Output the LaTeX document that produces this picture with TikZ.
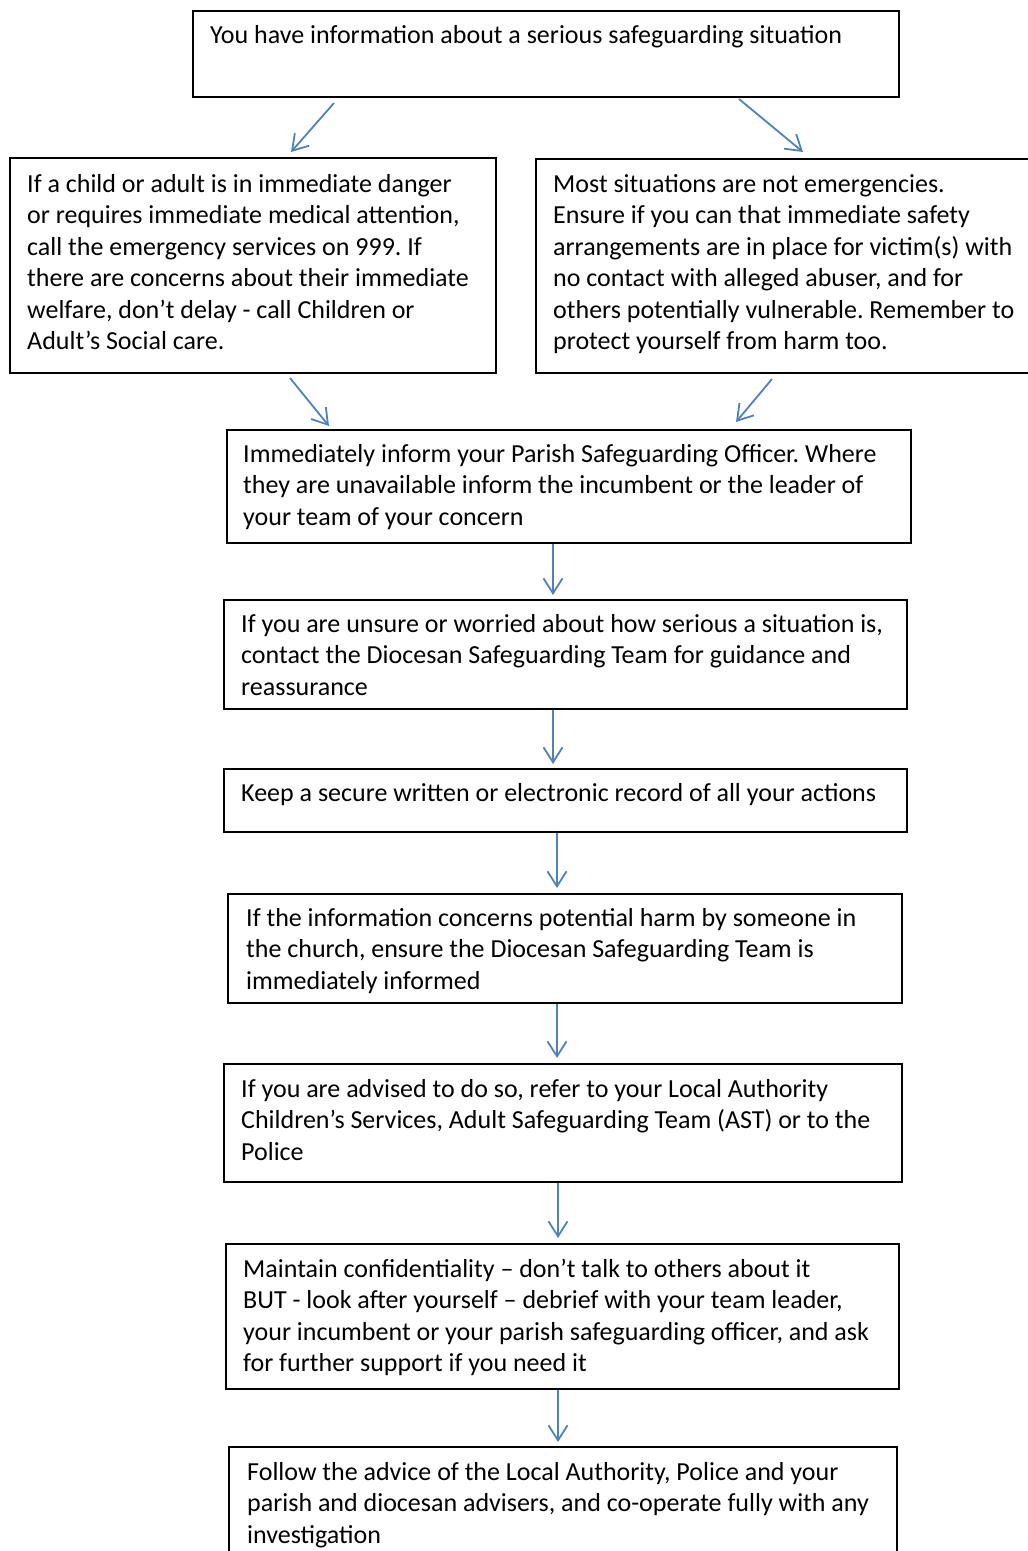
\documentclass[tikz,border=0pt]{standalone}
\usepackage{fontspec}
\setmainfont{Carlito}
\usetikzlibrary{arrows.meta,calc}
\definecolor{arrowblue}{HTML}{4F81BD}
\frenchspacing
\begin{document}
\begin{tikzpicture}[x=1pt,y=-1pt,
  box/.style={draw=black, line width=2pt, rectangle, anchor=north west, inner sep=0pt},
  txt/.style={anchor=north west, align=left, inner sep=0pt, font=\fontsize{26}{31.5}\selectfont},
  arr/.style={draw=arrowblue, line width=1.8pt, -{Straight Barb[length=15pt,width=19pt,line width=1.8pt]}}]
\useasboundingbox (0,0) rectangle (1028,1551);
\clip (0,0) rectangle (1028,1551);
% boxes
\node[box, minimum width=706, minimum height=86]  (b1) at (192,10) {};
\node[box, minimum width=486, minimum height=215] (b2) at (9,157) {};
\node[box, minimum width=505, minimum height=214] (b3) at (535,158) {};
\node[box, minimum width=684, minimum height=113] (b4) at (226,429) {};
\node[box, minimum width=683, minimum height=109] (b5) at (223,599) {};
\node[box, minimum width=683, minimum height=63]  (b6) at (223,768) {};
\node[box, minimum width=674, minimum height=109] (b7) at (227,893) {};
\node[box, minimum width=678, minimum height=118] (b8) at (223,1063) {};
\node[box, minimum width=673, minimum height=145] (b9) at (225,1243) {};
\node[box, minimum width=668, minimum height=120] (b10) at (228,1446) {};
% texts
\node[txt] (t1) at (210,21) {\strut You have information about a serious safeguarding situation};
\node[txt] (t2) at (27,170) {\strut If a child or adult is in immediate danger\\or requires immediate medical attention,\\call the emergency services on 999. If\\there are concerns about their immediate\\welfare, don’t delay - call Children or\\Adult’s Social care.};
\node[txt] (t3) at (553,170) {\strut Most situations are not emergencies.\\Ensure if you can that immediate safety\\arrangements are in place for victim(s) with\\no contact with alleged abuser, and for\\others potentially vulnerable. Remember to\\protect yourself from harm too.};
\node[txt] (t4) at (243,440) {\strut Immediately inform your Parish Safeguarding Officer. Where\\they are unavailable inform the incumbent or the leader of\\your team of your concern};
\node[txt] (t5) at (241,610) {\strut If you are unsure or worried about how serious a situation is,\\contact the Diocesan Safeguarding Team for guidance and\\reassurance};
\node[txt] (t6) at (241,779) {\strut Keep a secure written or electronic record of all your actions};
\node[txt] (t7) at (246,904) {\strut If the information concerns potential harm by someone in\\the church, ensure the Diocesan Safeguarding Team is\\immediately informed};
\node[txt] (t8) at (241,1075) {\strut If you are advised to do so, refer to your Local Authority\\Children’s Services, Adult Safeguarding Team (AST) or to the\\Police};
\node[txt] (t9) at (243,1255) {\strut Maintain confidentiality – don’t talk to others about it\\BUT - look after yourself – debrief with your team leader,\\your incumbent or your parish safeguarding officer, and ask\\for further support if you need it};
\node[txt] (t10) at (247,1458) {\strut Follow the advice of the Local Authority, Police and your\\parish and diocesan advisers, and co-operate fully with any\\investigation};
% arrow end points
\coordinate (a1s) at ($(b1.south west)+(142,5)$);
\coordinate (a1e) at ($(b2.north west)+(282,-5)$);
\coordinate (a2s) at ($(b1.south west)+(547,1)$);
\coordinate (a2e) at ($(b3.north west)+(268,-6)$);
\coordinate (a3s) at ($(b2.south west)+(281,4)$);
\coordinate (a3e) at ($(b4.north west)+(103,-3)$);
\coordinate (a4s) at ($(b3.south west)+(237,5)$);
\coordinate (a4e) at ($(b4.north west)+(510,-7)$);
\draw[arr] (a1s) -- (a1e);
\draw[arr] (a2s) -- (a2e);
\draw[arr] (a3s) -- (a3e);
\draw[arr] (a4s) -- (a4e);
\draw[arr] (b4.south west)++(327,0) -- ($(b5.north west)+(330,-4)$);
\draw[arr] (b5.south west)++(330,0) -- ($(b6.north west)+(330,-4)$);
\draw[arr] (b6.south west)++(334,0) -- ($(b7.north west)+(330,-5)$);
\draw[arr] (b7.south west)++(330,0) -- ($(b8.north west)+(334,-5)$);
\draw[arr] (b8.south west)++(335,0) -- ($(b9.north west)+(333,-5)$);
\draw[arr] (b9.south west)++(333,0) -- ($(b10.north west)+(330,-4)$);
\end{tikzpicture}
\end{document}
